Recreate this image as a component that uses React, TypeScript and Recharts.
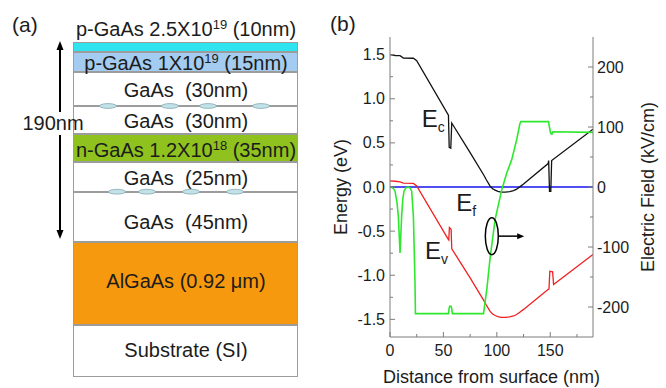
import {
  ComposedChart,
  Line,
  XAxis,
  YAxis,
  ReferenceDot,
  ReferenceLine,
} from 'recharts'

const FONT = '"Liberation Sans", Arial, sans-serif'
const AXIS = '#7d7d7d'
const INK = '#1c1c1c'

// (a) layer stack, top to bottom
const layerMaterial = ['p-GaAs', 'p-GaAs', 'GaAs ', 'GaAs ', 'n-GaAs', 'GaAs ', 'GaAs ', 'AlGaAs', 'Substrate']
const layerDoping = ['2.5X10', '1X10', '', '', '1.2X10', '', '', '', '']
const layerExponent = ['19', '19', '', '', '18', '', '', '', '']
const layerThickness = ['(10nm)', '(15nm)', '(30nm)', '(30nm)', '(35nm)', '(25nm)', '(45nm)', '(0.92 μm)', '(SI)']

// (b) conduction band
const ecDist = [0, 5, 9.4, 12.5, 21.9, 25, 54.7, 55.4, 56.9, 57.8, 75, 88, 90, 93.7, 96, 98.4, 101, 104, 108, 112, 115.7, 118.5, 121.8, 125, 148, 148.5, 149.3, 150.5, 151.3, 190]
const ecEnergy = [1.5, 1.49, 1.488, 1.462, 1.459, 1.432, 0.815, 0.45, 0.44, 0.725, 0.39, 0.13, 0.085, 0.01, -0.02, -0.036, -0.05, -0.057, -0.058, -0.053, -0.042, -0.025, 0.004, 0.033, 0.265, 0.3, -0.05, -0.05, 0.3, 0.655]

// valence band
const evDist = [0, 5, 9.4, 12.5, 21.9, 25, 54.4, 55.0, 55.6, 57.2, 57.8, 75, 88, 90, 93.7, 96, 98.4, 101, 104, 108, 112, 115.7, 118.5, 121.8, 125, 148.2, 148.8, 149.6, 152.2, 153.1, 190]
const evEnergy = [0.07, 0.065, 0.058, 0.045, 0.04, 0.012, -0.59, -0.6, -0.46, -0.48, -0.7, -1.03, -1.29, -1.335, -1.41, -1.44, -1.456, -1.47, -1.477, -1.478, -1.473, -1.462, -1.445, -1.416, -1.387, -1.16, -1.155, -0.955, -0.96, -1.105, -0.765]

// Fermi level
const efDist = [0, 190]
const efEnergy = [0, 0]

// electric field (kV/cm), right axis
const fieldDist = [0, 3, 4.7, 6.5, 7.8, 9.4, 10.9, 12, 13.1, 15, 17.2, 19, 20.3, 21.9, 22.6, 23.4, 23.8, 54.7, 55.3, 55.8, 57.2, 57.8, 58.4, 87.5, 90.6, 93.7, 98.4, 104.7, 109.4, 114, 118.7, 121.5, 122.5, 148.4, 149.2, 150.3, 151.5, 152.5, 190]
const fieldValue = [0, -2, -7, -25, -49, -110, -49, -20, -7, -1, 0, -2, -7, -49, -100, -160, -211, -211, -203, -199, -199, -203, -211, -211, -171, -118, -54, -4, 24, 46, 80, 105, 109, 109, 100, 90, 88, 92, 91]

const distTicks = [0, 25, 50, 75, 100, 125, 150, 175]
const distLabels = [0, 50, 100, 150]
const energyTicks = [-1.5, -1.25, -1, -0.75, -0.5, -0.25, 0, 0.25, 0.5, 0.75, 1, 1.25, 1.5]
const energyLabels = [-1.5, -1, -0.5, 0, 0.5, 1, 1.5]
const fieldTicks = [-200, -150, -100, -50, 0, 50, 100, 150, 200]
const fieldLabels = [-200, -100, 0, 100, 200]

const toPoints = (xs: number[], ys: number[]) => xs.map((x, i) => ({ x, y: ys[i] }))
const ecData = toPoints(ecDist, ecEnergy)
const evData = toPoints(evDist, evEnergy)
const efData = toPoints(efDist, efEnergy)
const fieldData = toPoints(fieldDist, fieldValue)

// layout of the layer drawing, px
const layerTop = [41.7, 52.3, 71.7, 106, 134.3, 161.7, 191.7, 241.7, 325]
const layerBottom = [52.3, 71.7, 106, 134.3, 161.7, 191.7, 241.7, 325, 377.3]
const layerFill = ['#2fe4ee', '#a4ccf0', '#fff', '#fff', '#8fc21f', '#fff', '#fff', '#f7990e', '#fff']
const layerTextY = [28.5, 62.5, 90, 121, 149.5, 178, 222, 281, 350]
const dotRows = [
  { y: 106, xs: [108, 170, 208, 261] },
  { y: 191.7, xs: [117, 147, 191, 235] },
]

function LayerStack() {
  return (
    <div style={{ position: 'absolute', left: 0, top: 0, width: 330, height: 388 }}>
      {layerMaterial.map((m, i) => (
        <div
          key={'l' + i}
          style={{
            position: 'absolute',
            left: 73,
            width: 225,
            top: layerTop[i],
            height: layerBottom[i] - layerTop[i],
            background: layerFill[i],
            boxSizing: 'border-box',
            border: '1px solid #9c9c9c',
          }}
        />
      ))}
      {layerMaterial.map((m, i) => (
        <div
          key={'t' + i}
          style={{
            position: 'absolute',
            left: 60,
            width: 252,
            top: layerTextY[i] - 12,
            height: 24,
            lineHeight: '24px',
            textAlign: 'center',
            fontSize: 20,
            color: INK,
            whiteSpace: 'pre',
          }}
        >
          {m}
          {layerDoping[i] ? ' ' + layerDoping[i] : ''}
          {layerExponent[i] ? (
            <span style={{ fontSize: 13, position: 'relative', top: -7 }}>{layerExponent[i]}</span>
          ) : null}
          {' ' + layerThickness[i]}
        </div>
      ))}
      <svg width={330} height={388} style={{ position: 'absolute', left: 0, top: 0 }}>
        {dotRows.map((r, j) =>
          r.xs.map((x, k) => (
            <ellipse key={j + '-' + k} cx={x} cy={r.y} rx={8.5} ry={2.4} fill="#c2e2e8" stroke="#86aab2" strokeWidth={0.8} />
          ))
        )}
        <line x1={60} x2={60} y1={49} y2={112} stroke="#000" strokeWidth={2} />
        <polygon points="60,41 56.5,50 63.5,50" fill="#000" />
        <line x1={60} x2={60} y1={135} y2={231} stroke="#000" strokeWidth={2} />
        <polygon points="60,239 56.5,230 63.5,230" fill="#000" />
        <text x={53} y={123} dy="0.35em" textAnchor="middle" fontSize={20} fill={INK} fontFamily={FONT}>
          190nm
        </text>
      </svg>
    </div>
  )
}

const leftTick = (p: any) => {
  const v = p.payload.value
  const major = energyLabels.includes(v)
  return (
    <g>
      <line x1={p.x} x2={p.x + (major ? 5 : 3)} y1={p.y} y2={p.y} stroke={AXIS} />
      {major && (
        <text x={p.x - 5} y={p.y} dy="0.35em" textAnchor="end" fontSize={16} fill={INK} fontFamily={FONT}>
          {v.toFixed(1)}
        </text>
      )}
    </g>
  )
}

const rightTick = (p: any) => {
  const v = p.payload.value
  const major = fieldLabels.includes(v)
  return (
    <g>
      <line x1={p.x} x2={p.x - (major ? 5 : 3)} y1={p.y} y2={p.y} stroke={AXIS} />
      {major && (
        <text x={p.x + 4} y={p.y} dy="0.35em" textAnchor="start" fontSize={16} fill={INK} fontFamily={FONT}>
          {v}
        </text>
      )}
    </g>
  )
}

const bottomTick = (p: any) => {
  const v = p.payload.value
  const major = distLabels.includes(v)
  return (
    <g>
      <line x1={p.x} x2={p.x} y1={p.y} y2={p.y - (major ? 5 : 3)} stroke={AXIS} />
      {major && (
        <text x={p.x} y={p.y + 13} dy="0.35em" textAnchor="middle" fontSize={16} fill={INK} fontFamily={FONT}>
          {v}
        </text>
      )}
    </g>
  )
}

const topTick = (p: any) => {
  const major = distLabels.includes(p.payload.value)
  return <line x1={p.x} x2={p.x} y1={p.y} y2={p.y + (major ? 5 : 3)} stroke={AXIS} />
}

const rotatedTitle = (text: string, dxFromAxis: number) => (p: any) => {
  const { x, y, height } = p.viewBox
  const cx = x + dxFromAxis
  const cy = y + height / 2
  return (
    <text x={cx} y={cy} dy="0.35em" transform={`rotate(-90 ${cx} ${cy})`} textAnchor="middle" fontSize={18} fill={INK} fontFamily={FONT}>
      {text}
    </text>
  )
}

const bottomTitle = (p: any) => {
  const { x, y, width } = p.viewBox
  return (
    <text x={x + width / 2} y={y + 40} dy="0.35em" textAnchor="middle" fontSize={18} fill={INK} fontFamily={FONT}>
      Distance from surface (nm)
    </text>
  )
}

const bandLabel = (sub: string) => (p: any) => (
  <text x={p.cx} y={p.cy} fontSize={24} fill={INK} fontFamily={FONT}>
    E
    <tspan fontSize={14} dy={5}>
      {sub}
    </tspan>
  </text>
)

const fieldMarker = (p: any) => <ellipse cx={p.cx} cy={p.cy} rx={6.5} ry={18.5} fill="none" stroke="#000" strokeWidth={1.5} />

const arrowShape = (p: any) => (
  <g>
    <line x1={p.x1} y1={p.y1} x2={p.x2 - 5} y2={p.y2} stroke="#000" strokeWidth={1.5} />
    <polygon points={`${p.x2},${p.y2} ${p.x2 - 7},${p.y2 - 3} ${p.x2 - 7},${p.y2 + 3}`} fill="#000" />
  </g>
)

function BandChart() {
  return (
    <ComposedChart width={336} height={388} margin={{ top: 37, right: 0, bottom: 0, left: 0 }}>
      <XAxis
        xAxisId="bottom"
        type="number"
        dataKey="x"
        domain={[0, 190]}
        ticks={distTicks}
        interval={0}
        allowDataOverflow
        height={51}
        tickSize={0}
        tickMargin={0}
        tickLine={false}
        tick={bottomTick}
        axisLine={{ stroke: AXIS }}
        label={bottomTitle}
      />
      <XAxis
        xAxisId="top"
        orientation="top"
        type="number"
        dataKey="x"
        domain={[0, 190]}
        ticks={distTicks}
        interval={0}
        allowDataOverflow
        height={0}
        tickSize={0}
        tickMargin={0}
        tickLine={false}
        tick={topTick}
        axisLine={{ stroke: AXIS }}
      />
      <YAxis
        yAxisId="left"
        type="number"
        domain={[-1.7, 1.7]}
        ticks={energyTicks}
        interval={0}
        allowDataOverflow
        width={60}
        tickSize={0}
        tickMargin={0}
        tickLine={false}
        tick={leftTick}
        axisLine={{ stroke: AXIS }}
        label={rotatedTitle('Energy (eV)', 11)}
      />
      <YAxis
        yAxisId="right"
        orientation="right"
        type="number"
        domain={[-250, 250]}
        ticks={fieldTicks}
        interval={0}
        allowDataOverflow
        width={73}
        tickSize={0}
        tickMargin={0}
        tickLine={false}
        tick={rightTick}
        axisLine={{ stroke: AXIS }}
        label={rotatedTitle('Electric Field (kV/cm)', 55)}
      />
      <Line xAxisId="bottom" yAxisId="left" data={efData} dataKey="y" stroke="#1414f0" strokeWidth={1.4} dot={false} isAnimationActive={false} />
      <Line xAxisId="bottom" yAxisId="left" data={ecData} dataKey="y" stroke="#111" strokeWidth={1.3} dot={false} isAnimationActive={false} />
      <Line xAxisId="bottom" yAxisId="left" data={evData} dataKey="y" stroke="#f02020" strokeWidth={1.3} dot={false} isAnimationActive={false} />
      <Line xAxisId="bottom" yAxisId="right" data={fieldData} dataKey="y" stroke="#2ee82e" strokeWidth={1.6} dot={false} isAnimationActive={false} />
      <ReferenceDot xAxisId="bottom" yAxisId="left" x={29.7} y={0.675} r={0} shape={bandLabel('c')} />
      <ReferenceDot xAxisId="bottom" yAxisId="left" x={61.9} y={-0.273} r={0} shape={bandLabel('f')} />
      <ReferenceDot xAxisId="bottom" yAxisId="left" x={32.8} y={-0.82} r={0} shape={bandLabel('v')} />
      <ReferenceDot xAxisId="bottom" yAxisId="left" x={95.3} y={-0.557} r={0} shape={fieldMarker} />
      <ReferenceLine
        xAxisId="bottom"
        yAxisId="left"
        segment={[
          { x: 101.5, y: -0.557 },
          { x: 125.6, y: -0.557 },
        ]}
        shape={arrowShape}
      />
    </ComposedChart>
  )
}

export default function App() {
  return (
    <div
      style={{
        position: 'absolute',
        left: 0,
        top: 0,
        width: 666,
        height: 388,
        background: '#fff',
        fontFamily: FONT,
        overflow: 'hidden',
      }}
    >
      <LayerStack />
      <div style={{ position: 'absolute', left: 330, top: 0 }}>
        <BandChart />
      </div>
      <div style={{ position: 'absolute', left: 12, top: 13, fontSize: 21, color: INK, lineHeight: '24px' }}>(a)</div>
      <div style={{ position: 'absolute', left: 330, top: 12, fontSize: 21, color: INK, lineHeight: '24px' }}>(b)</div>
    </div>
  )
}
